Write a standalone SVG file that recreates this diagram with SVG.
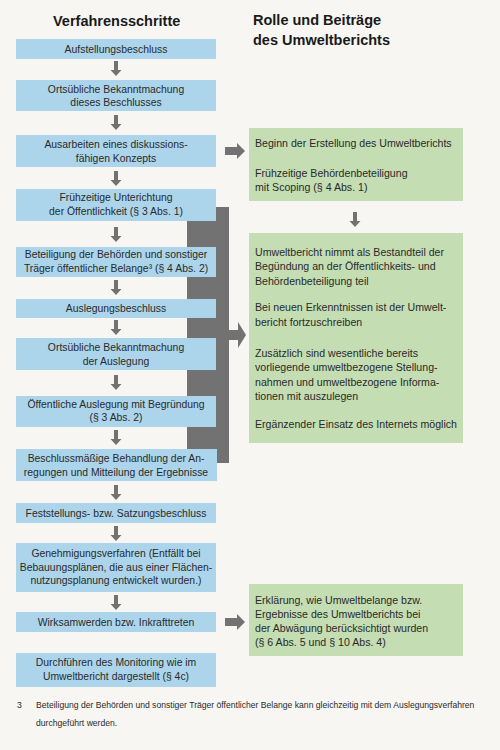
<svg xmlns="http://www.w3.org/2000/svg" xmlns:xlink="http://www.w3.org/1999/xlink" width="500" height="750" viewBox="0 0 500 750">
<style>
text{font-family:"Liberation Sans",Arial,sans-serif;fill:#2a2a2a}
.t{font-size:10.4px;text-anchor:middle}
.g{font-size:10.6px}
.h{font-size:14.5px;font-weight:bold;fill:#1a1a1a}
.f{font-size:8.6px}
.b{fill:#acd5ec}
.gr{fill:#c4ddb3}
.a{fill:#727272}
</style>
<defs>
<path id="da" class="a" d="M-2,0 h4 v9 h3.5 l-5.5,6 l-5.5,-6 h3.5z"/>
<path id="ra" class="a" d="M0,-4 h12 v-4 l8,8 l-8,8 v-4 h-12z"/>
</defs>
<rect width="500" height="750" fill="#f7f6f2"/>
<text class="h" x="53" y="26">Verfahrensschritte</text>
<text class="h" x="253" y="25">Rolle und Beiträge</text>
<text class="h" x="253" y="45">des Umweltberichts</text>

<g id="connectors">
<rect class="a" x="187" y="207" width="42" height="256"/>
<path class="a" d="M229,330 h9 v-8 l8,13 l-8,13 v-8 h-9z"/>
<use xlink:href="#da" x="116" y="61"/>
<use xlink:href="#da" x="116" y="115"/>
<use xlink:href="#da" x="116" y="171"/>
<use xlink:href="#da" x="116" y="227"/>
<use xlink:href="#da" x="116" y="280"/>
<use xlink:href="#da" x="116" y="320"/>
<use xlink:href="#da" x="116" y="375"/>
<use xlink:href="#da" x="116" y="430"/>
<use xlink:href="#da" x="116" y="485"/>
<use xlink:href="#da" x="116" y="526"/>
<use xlink:href="#da" x="116" y="595"/>
<use xlink:href="#ra" x="225" y="151"/>
<use xlink:href="#ra" x="225" y="622"/>
<use xlink:href="#da" x="355" y="212"/>
</g>

<g id="n1"><rect class="b" x="16" y="39" width="200" height="20"/><text class="t" x="116" y="52.5">Aufstellungsbeschluss</text></g>
<g id="n2"><rect class="b" x="16" y="80" width="200" height="31"/><text class="t" x="116" y="93">Ortsübliche Bekanntmachung</text><text class="t" x="116" y="106">dieses Beschlusses</text></g>
<g id="n3"><rect class="b" x="16" y="135" width="200" height="32"/><text class="t" x="116" y="148">Ausarbeiten eines diskussions-</text><text class="t" x="116" y="162">fähigen Konzepts</text></g>
<g id="n4"><rect class="b" x="16" y="189" width="200" height="32"/><text class="t" x="116" y="201">Frühzeitige Unterichtung</text><text class="t" x="116" y="215">der Öffentlichkeit (§ 3 Abs. 1)</text></g>
<g id="n5"><rect class="b" x="16" y="247" width="200" height="30"/><text class="t" x="116" y="258">Beteiligung der Behörden und sonstiger</text><text class="t" x="116" y="272">Träger öffentlicher Belange³ (§ 4 Abs. 2)</text></g>
<g id="n6"><rect class="b" x="16" y="299" width="200" height="19"/><text class="t" x="116" y="311.5">Auslegungsbeschluss</text></g>
<g id="n7"><rect class="b" x="16" y="338" width="200" height="32"/><text class="t" x="116" y="351">Ortsübliche Bekanntmachung</text><text class="t" x="116" y="365">der Auslegung</text></g>
<g id="n8"><rect class="b" x="16" y="396" width="200" height="31"/><text class="t" x="116" y="407.5">Öffentliche Auslegung mit Begründung</text><text class="t" x="116" y="421">(§ 3 Abs. 2)</text></g>
<g id="n9"><rect class="b" x="16" y="449" width="201" height="32"/><text class="t" x="116" y="462">Beschlussmäßige Behandlung der An-</text><text class="t" x="116" y="475.5">regungen und Mitteilung der Ergebnisse</text></g>
<g id="n10"><rect class="b" x="16" y="503" width="200" height="20"/><text class="t" x="116" y="516.5">Feststellungs- bzw. Satzungsbeschluss</text></g>
<g id="n11"><rect class="b" x="16" y="543" width="200" height="49"/><text class="t" x="116" y="557">Genehmigungsverfahren (Entfällt bei</text><text class="t" x="116" y="570.5">Bebauungsplänen, die aus einer Flächen-</text><text class="t" x="116" y="584">nutzungsplanung entwickelt wurden.)</text></g>
<g id="n12"><rect class="b" x="16" y="612" width="200" height="20"/><text class="t" x="116" y="625.5">Wirksamwerden bzw. Inkrafttreten</text></g>
<g id="n13"><rect class="b" x="16" y="653" width="200" height="34"/><text class="t" x="116" y="666">Durchführen des Monitoring wie im</text><text class="t" x="116" y="680">Umweltbericht dargestellt (§ 4c)</text></g>

<g id="r1"><rect class="gr" x="249" y="128" width="214" height="73"/>
<text class="g" x="255" y="147">Beginn der Erstellung des Umweltberichts</text>
<text class="g" x="255" y="177">Frühzeitige Behördenbeteiligung</text>
<text class="g" x="255" y="191">mit Scoping (§ 4 Abs. 1)</text></g>
<g id="r2"><rect class="gr" x="249" y="233" width="214" height="210"/>
<text class="g" x="255" y="256">Umweltbericht nimmt als Bestandteil der</text>
<text class="g" x="255" y="270">Begündung an der Öffentlichkeits- und</text>
<text class="g" x="255" y="285">Behördenbeteiligung teil</text>
<text class="g" x="255" y="311">Bei neuen Erkenntnissen ist der Umwelt-</text>
<text class="g" x="255" y="326">bericht fortzuschreiben</text>
<text class="g" x="255" y="357">Zusätzlich sind wesentliche bereits</text>
<text class="g" x="255" y="371">vorliegende umweltbezogene Stellung-</text>
<text class="g" x="255" y="386">nahmen und umweltbezogene Informa-</text>
<text class="g" x="255" y="400">tionen mit auszulegen</text>
<text class="g" x="255" y="428">Ergänzender Einsatz des Internets möglich</text></g>
<g id="r3"><rect class="gr" x="249" y="584" width="214" height="72"/>
<text class="g" x="255" y="604">Erklärung, wie Umweltbelange bzw.</text>
<text class="g" x="255" y="618">Ergebnisse des Umweltberichts bei</text>
<text class="g" x="255" y="632">der Abwägung berücksichtigt wurden</text>
<text class="g" x="255" y="646">(§ 6 Abs. 5 und § 10 Abs. 4)</text></g>

<g id="footnote">
<text class="f" x="17" y="708">3</text>
<text class="f" x="36" y="708">Beteiligung der Behörden und sonstiger Träger öffentlicher Belange kann gleichzeitig mit dem Auslegungsverfahren</text>
<text class="f" x="36" y="726">durchgeführt werden.</text>
</g>
</svg>
